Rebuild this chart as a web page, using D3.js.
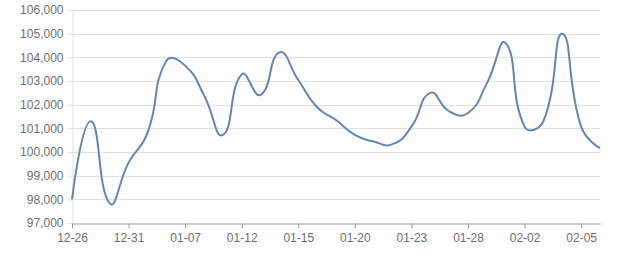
<!DOCTYPE html>
<html>
<head>
<meta charset="utf-8">
<script src="https://cdn.jsdelivr.net/npm/d3@7"></script>
<style>
  html, body { margin: 0; padding: 0; background: #fff; }
  svg { display: block; font-family: "Noto Sans", "DejaVu Sans", sans-serif; }
</style>
</head>
<body>
<svg id="chart"></svg>
<script>
// dates (trading days) and prices
const dates = ['12-26', '12-27', '12-30', '12-31', '01-02', '01-03', '01-07', '01-08', '01-09', '01-12',
    '01-13', '01-14', '01-15', '01-16', '01-17', '01-20', '01-21', '01-22', '01-23', '01-24',
    '01-27', '01-28', '01-30', '01-31', '02-02', '02-03', '02-04', '02-05', '02-06'];
const prices = [98000, 101300, 97830, 99550, 100800, 103850, 103650, 102400, 100720, 103280,
    102410, 104210, 103040, 101890, 101350, 100720, 100440, 100330, 101070, 102500,
    101720, 101650, 102900, 104600, 101070, 101300, 105000, 101070, 100160];
const yTicks = [97000, 98000, 99000, 100000, 101000, 102000, 103000, 104000, 105000, 106000];
const labelEvery = 3;

initChart();

function initChart() {
    const width = 640, height = 270;
    const margin = { top: 10, right: 40, bottom: 47, left: 72 };

    const svg = d3.select('#chart')
        .attr('width', width)
        .attr('height', height);

    const x = d3.scalePoint()
        .domain(dates)
        .range([margin.left, width - margin.right]);

    const y = d3.scaleLinear()
        .domain([97000, 106000])
        .range([height - margin.bottom, margin.top]);

    // horizontal grid lines
    svg.append('g')
        .selectAll('line')
        .data(yTicks.slice(1))
        .enter()
        .append('line')
        .attr('x1', margin.left)
        .attr('x2', width - margin.right)
        .attr('y1', (d) => Math.round(y(d)) + 0.5)
        .attr('y2', (d) => Math.round(y(d)) + 0.5)
        .attr('stroke', '#e0e0e0');

    // y axis, light ticks pointing left
    const yAxis = svg.append('g')
        .attr('transform', 'translate(' + (margin.left + 0.5) + ',0)')
        .call(d3.axisLeft(y).tickValues(yTicks).tickSize(5).tickSizeOuter(0).tickPadding(4)
            .tickFormat(d3.format(',')));
    yAxis.select('.domain').attr('stroke', '#e0e0e0');
    yAxis.selectAll('.tick line').attr('stroke', '#e0e0e0');
    yAxis.selectAll('text').attr('fill', '#6e6e6e').style('font-size', '12px');

    // x axis
    const xAxis = svg.append('g')
        .attr('transform', 'translate(0,' + (Math.round(y(97000)) + 0.5) + ')')
        .call(d3.axisBottom(x)
            .tickValues(dates.filter((d, i) => i % labelEvery === 0))
            .tickSize(5).tickSizeOuter(0).tickPadding(5));
    xAxis.select('.domain').attr('stroke', '#999');
    xAxis.selectAll('.tick line').attr('stroke', '#999');
    xAxis.selectAll('text').attr('fill', '#6e6e6e').style('font-size', '12px');

    // price line, smoothed the way echarts does (arms split by segment length)
    const pts = prices.map((d, i) => [x(dates[i]), y(d)]);
    svg.append('path')
        .attr('d', smoothPath(pts, 0.5))
        .attr('fill', 'none')
        .attr('stroke', '#6584b8')
        .attr('stroke-width', 2)
        .attr('stroke-linejoin', 'round');
}

function smoothPath(pts, smooth) {
    const p = d3.path();
    const n = pts.length;
    let cp0 = pts[0].slice();
    p.moveTo(pts[0][0], pts[0][1]);
    for (let i = 1; i < n; i++) {
        const cur = pts[i], prev = pts[i - 1], next = pts[i + 1];
        let cp1 = cur.slice(), nextCp0 = cur.slice();
        if (next) {
            const vx = next[0] - prev[0], vy = next[1] - prev[1];
            const d0 = Math.hypot(cur[0] - prev[0], cur[1] - prev[1]);
            const d1 = Math.hypot(next[0] - cur[0], next[1] - cur[1]);
            const r = d1 / (d0 + d1);
            cp1 = [cur[0] - vx * smooth * (1 - r), cur[1] - vy * smooth * (1 - r)];
            nextCp0 = [cur[0] + vx * smooth * r, cur[1] + vy * smooth * r];
        }
        p.bezierCurveTo(cp0[0], cp0[1], cp1[0], cp1[1], cur[0], cur[1]);
        cp0 = nextCp0;
    }
    return p.toString();
}
</script>
</body>
</html>
